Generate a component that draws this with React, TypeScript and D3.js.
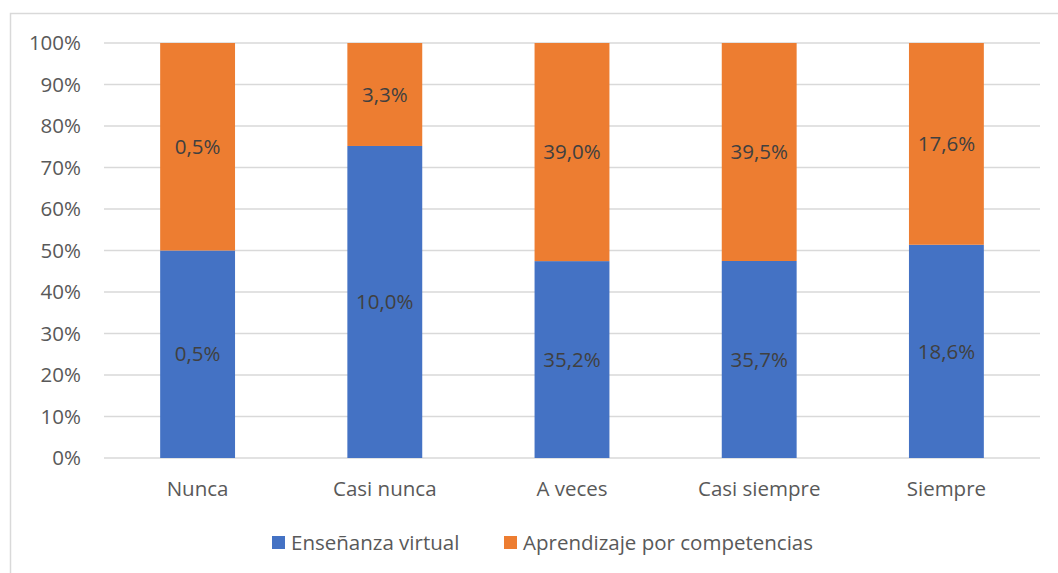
import React from "react";
import * as d3 from "d3";

// categorías y valores (porcentajes del total)
const categories = ["Nunca", "Casi nunca", "A veces", "Casi siempre", "Siempre"];
const virtualValues = [0.5, 10.0, 35.2, 35.7, 18.6];
const competenciasValues = [0.5, 3.3, 39.0, 39.5, 17.6];
const seriesNames = ["Enseñanza virtual", "Aprendizaje por competencias"];
const seriesColors = ["#4472C4", "#ED7D31"];
const yTicks = [0, 0.1, 0.2, 0.3, 0.4, 0.5, 0.6, 0.7, 0.8, 0.9, 1];

const W = 1058;
const H = 573;
const plot = { left: 104, right: 1040, top: 43, bottom: 458 };
const FONT = "'Open Sans', sans-serif";

const fmt = (v: number) => v.toFixed(1).replace(".", ",") + "%";

export default function App() {
  const x = d3
    .scaleBand<string>()
    .domain(categories)
    .range([plot.left, plot.right])
    .paddingInner(0.6)
    .paddingOuter(0.3);
  const y = d3.scaleLinear().domain([0, 1]).range([plot.bottom, plot.top]);

  // tabla para el apilado al 100%
  const rows = categories.map((c, i) => {
    const total = virtualValues[i] + competenciasValues[i];
    return {
      cat: c,
      v0: virtualValues[i],
      v1: competenciasValues[i],
      s0: virtualValues[i] / total,
      s1: competenciasValues[i] / total,
    };
  });
  const stack = d3.stack<any>().keys(["s0", "s1"])(rows);

  return (
    <svg
      width={W}
      height={H}
      style={{ position: "absolute", left: 0, top: 0, background: "#fff" }}
    >
      <rect x={10.5} y={13.5} width={W + 20} height={H + 20} fill="#fff" stroke="#d9d9d9" strokeWidth={1.5} />

      {/* líneas de cuadrícula y eje Y */}
      {yTicks.map((t) => (
        <g key={t}>
          <line
            x1={plot.left}
            x2={plot.right}
            y1={y(t)}
            y2={y(t)}
            stroke="#d9d9d9"
            strokeWidth={1.5}
          />
          <text
            x={81}
            y={y(t)}
            dy="0.35em"
            textAnchor="end"
            fontFamily={FONT}
            fontSize={20.5}
            fill="#595959"
          >
            {Math.round(t * 100) + "%"}
          </text>
        </g>
      ))}

      {/* barras */}
      {stack.map((layer, si) => (
        <g key={si}>
          {layer.map((d, i) => {
            const x0 = x(categories[i])!;
            const yTop = y(d[1]);
            const yBot = y(d[0]);
            const val = si === 0 ? rows[i].v0 : rows[i].v1;
            return (
              <g key={i}>
                <rect
                  x={x0}
                  y={yTop}
                  width={x.bandwidth()}
                  height={yBot - yTop}
                  fill={seriesColors[si]}
                />
                <text
                  x={x0 + x.bandwidth() / 2}
                  y={(yTop + yBot) / 2}
                  dy="0.35em"
                  textAnchor="middle"
                  fontFamily={FONT}
                  fontSize={20.5}
                  fill="#404040"
                >
                  {fmt(val)}
                </text>
              </g>
            );
          })}
        </g>
      ))}

      {/* etiquetas del eje X */}
      {categories.map((c) => (
        <text
          key={c}
          x={x(c)! + x.bandwidth() / 2}
          y={496}
          textAnchor="middle"
          fontFamily={FONT}
          fontSize={20.5}
          fill="#595959"
        >
          {c}
        </text>
      ))}

      {/* leyenda */}
      {seriesNames.map((name, i) => {
        const lx = [272, 504][i];
        return (
          <g key={name}>
            <rect x={lx} y={536} width={13} height={13} fill={seriesColors[i]} />
            <text
              x={lx + 19}
              y={550}
              fontFamily={FONT}
              fontSize={20.5}
              fill="#595959"
            >
              {name}
            </text>
          </g>
        );
      })}
    </svg>
  );
}
